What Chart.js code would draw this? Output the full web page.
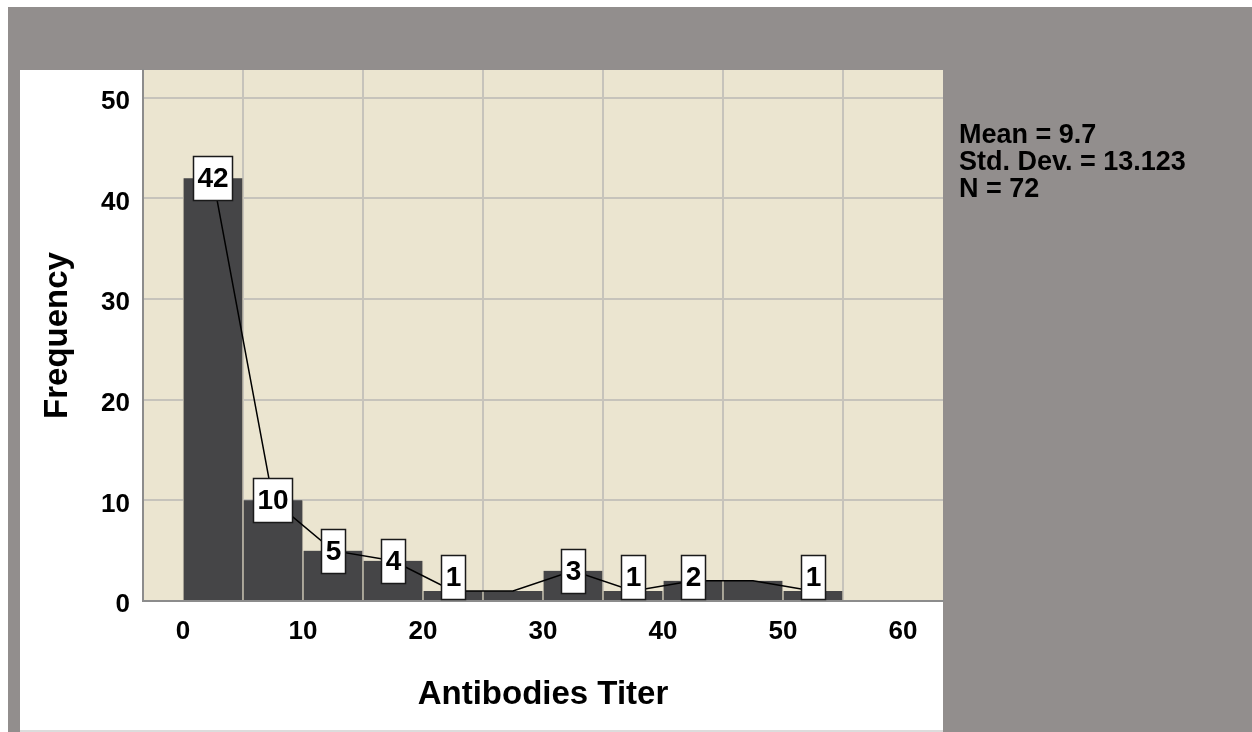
<!DOCTYPE html>
<html>
<head>
<meta charset="utf-8">
<script src="https://cdn.jsdelivr.net/npm/chart.js@4.4.1/dist/chart.umd.min.js"></script>
<style>
  html, body { margin: 0; padding: 0; background: #928e8d; }
  canvas { display: block; }
</style>
</head>
<body>
<canvas id="c" width="1252" height="732"></canvas>
<script>
// ---- data ----
const binMidpoints = [2.5, 7.5, 12.5, 17.5, 22.5, 27.5, 32.5, 37.5, 42.5, 47.5, 52.5];
const frequencies  = [42, 10, 5, 4, 1, 1, 3, 1, 2, 2, 1];
const showLabel    = [true, true, true, true, true, false, true, true, true, false, true];
const xTicks = [0, 10, 20, 30, 40, 50, 60];
const yTicks = [0, 10, 20, 30, 40, 50];
const statsLines = ['Mean = 9.7', 'Std. Dev. = 13.123', 'N = 72'];
const xTitle = 'Antibodies Titer';
const yTitle = 'Frequency';

const FONT = "'Liberation Sans', Arial, Helvetica, sans-serif";
const BEIGE = '#ebe5d0';
const GRAY = '#928e8d';
const GRID = '#c6c3bb';

const points = binMidpoints.map((x, i) => ({x: x, y: frequencies[i]}));

const backgroundPlugin = {
  id: 'bg',
  beforeDraw(chart) {
    const ctx = chart.ctx, a = chart.chartArea;
    ctx.save();
    ctx.fillStyle = GRAY;
    ctx.fillRect(0, 0, chart.width, chart.height);
    ctx.fillStyle = '#ffffff';
    ctx.fillRect(0, 0, chart.width, 7);
    ctx.fillRect(0, 0, 8, chart.height);
    ctx.fillRect(20, a.top, a.right - 20, chart.height - a.top - 2);
    ctx.fillStyle = '#dcdcdc';
    ctx.fillRect(20, chart.height - 2, a.right - 20, 2);
    ctx.fillStyle = BEIGE;
    ctx.fillRect(a.left, a.top, a.right - a.left, a.bottom - a.top);
    ctx.restore();
  }
};

const labelPlugin = {
  id: 'boxLabels',
  afterDatasetsDraw(chart) {
    const ctx = chart.ctx, a = chart.chartArea;
    const xs = chart.scales.x, ys = chart.scales.y;
    ctx.save();
    ctx.font = 'bold 28px ' + FONT;
    ctx.textAlign = 'center';
    ctx.textBaseline = 'middle';
    points.forEach((p, i) => {
      if (!showLabel[i]) return;
      const txt = String(p.y);
      const w = Math.round(ctx.measureText(txt).width) + 8;
      const h = 44;
      const cx = xs.getPixelForValue(p.x);
      let cy = ys.getPixelForValue(p.y);
      let top = cy - h / 2;
      if (top + h > a.bottom - 2) top = a.bottom - 2 - h;
      const left = Math.round(cx - w / 2) + 0.5;
      top = Math.round(top) + 0.5;
      ctx.fillStyle = '#ffffff';
      ctx.fillRect(left, top, w, h);
      ctx.strokeStyle = '#1a1a1a';
      ctx.lineWidth = 1.5;
      ctx.strokeRect(left, top, w, h);
      ctx.fillStyle = '#000000';
      ctx.fillText(txt, left + w / 2, top + h / 2 + 1);
    });
    ctx.restore();
  },
  afterDraw(chart) {
    const ctx = chart.ctx;
    ctx.save();
    ctx.font = 'bold 27px ' + FONT;
    ctx.fillStyle = '#000000';
    ctx.textAlign = 'left';
    ctx.textBaseline = 'alphabetic';
    statsLines.forEach((t, i) => ctx.fillText(t, 959, 143 + i * 27));
    ctx.restore();
  }
};

new Chart(document.getElementById('c'), {
  type: 'bar',
  data: {
    datasets: [
      {
        type: 'line',
        data: points,
        borderColor: '#000000',
        borderWidth: 1.5,
        pointRadius: 0,
        tension: 0,
        fill: false,
        order: 0
      },
      {
        type: 'bar',
        data: points,
        backgroundColor: '#454547',
        borderColor: '#d6d0bc',
        borderWidth: {left: 1, right: 1, top: 0, bottom: 0},
        borderSkipped: false,
        barPercentage: 1,
        categoryPercentage: 1,
        order: 1
      }
    ]
  },
  options: {
    responsive: false,
    animation: false,
    devicePixelRatio: 1,
    layout: { padding: {left: 20, top: 70, right: 309, bottom: 3} },
    plugins: { legend: {display: false}, tooltip: {enabled: false} },
    scales: {
      x: {
        type: 'linear',
        min: -3.333,
        max: 63.333,
        offset: false,
        afterBuildTicks: s => { s.ticks = xTicks.map(v => ({value: v})); },
        afterFit: s => { s.height = 128; },
        grid: { color: GRID, lineWidth: 2, drawTicks: false },
        border: { color: '#8c8c8c', width: 2 },
        ticks: { color: '#000', padding: 15, font: {family: FONT, size: 26, weight: 'bold'}, maxRotation: 0 },
        title: { display: true, text: xTitle, color: '#000', font: {family: FONT, size: 33, weight: 'bold'}, padding: {top: 0, bottom: 14} }
      },
      y: {
        min: 0,
        max: 52.75,
        afterBuildTicks: s => { s.ticks = yTicks.map(v => ({value: v})); },
        afterFit: s => { s.width = 123; },
        grid: { color: GRID, lineWidth: 2, drawTicks: false },
        border: { color: '#8c8c8c', width: 2 },
        ticks: { color: '#000', padding: 13, labelOffset: 4, font: {family: FONT, size: 26, weight: 'bold'} },
        title: { display: true, text: yTitle, color: '#000', font: {family: FONT, size: 33, weight: 'bold'}, padding: {top: 18, bottom: 0} }
      }
    }
  },
  plugins: [backgroundPlugin, labelPlugin]
});
</script>
</body>
</html>
